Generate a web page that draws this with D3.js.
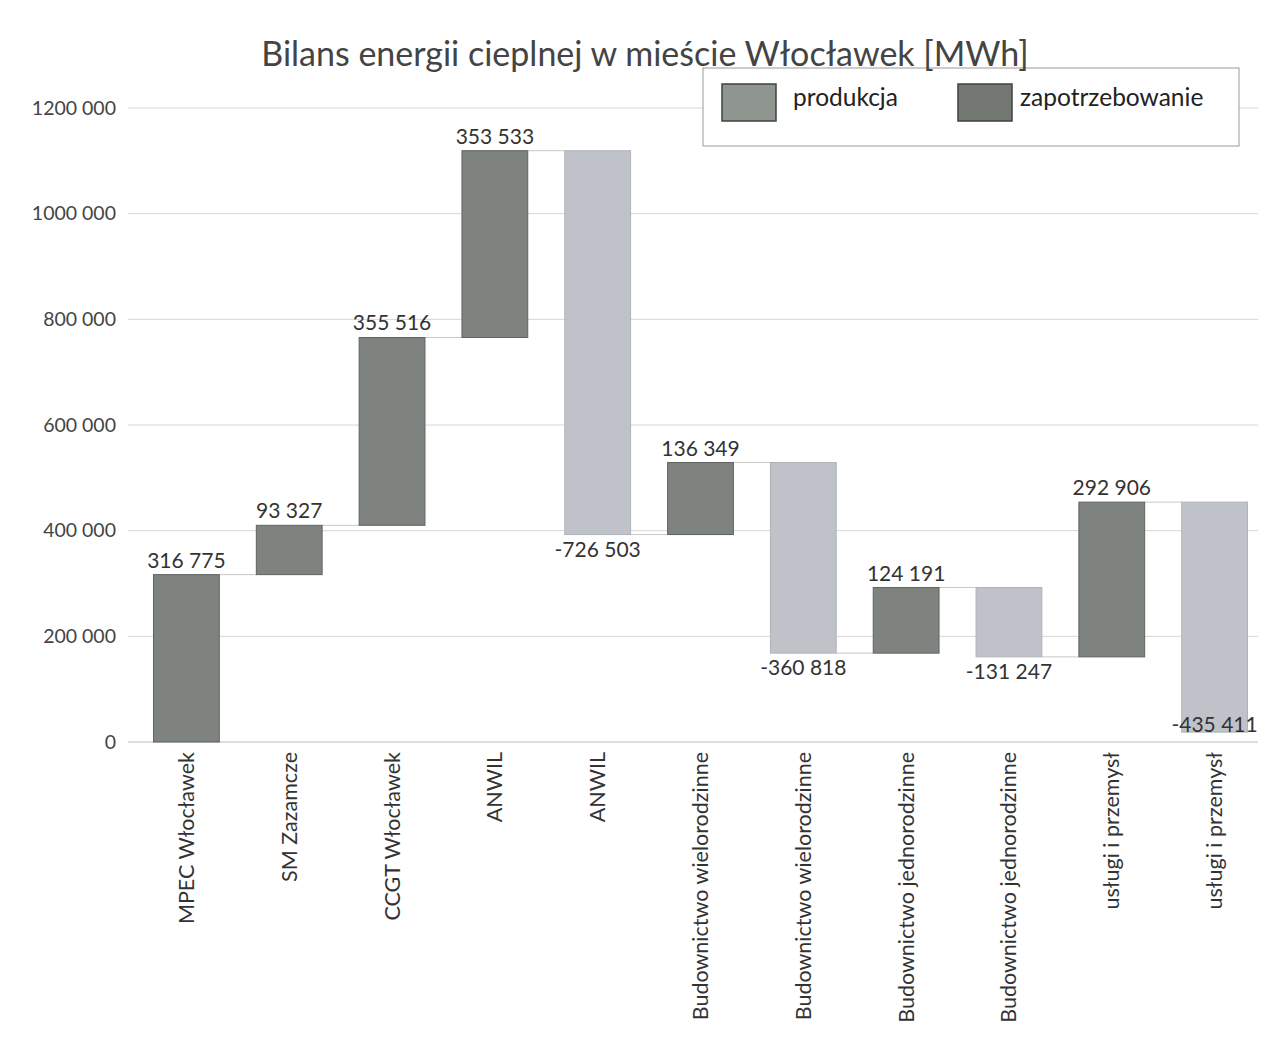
<!DOCTYPE html>
<html>
<head>
<meta charset="utf-8">
<script src="https://cdn.jsdelivr.net/npm/d3@7"></script>
<style>
  html, body { margin: 0; padding: 0; background: #ffffff; }
  svg { display: block; }
</style>
</head>
<body>
<svg id="chart" width="1261" height="1051"></svg>
<script>
// ---- data ----
const categories = [
  "MPEC Włocławek", "SM Zazamcze", "CCGT Włocławek", "ANWIL", "ANWIL",
  "Budownictwo wielorodzinne", "Budownictwo wielorodzinne",
  "Budownictwo jednorodzinne", "Budownictwo jednorodzinne",
  "usługi i przemysł", "usługi i przemysł"
];
const values = [316775, 93327, 355516, 353533, -726503, 136349, -360818, 124191, -131247, 292906, -435411];
const valueLabels = ["316 775", "93 327", "355 516", "353 533", "-726 503", "136 349", "-360 818", "124 191", "-131 247", "292 906", "-435 411"];
const yTicks = [0, 200000, 400000, 600000, 800000, 1000000, 1200000];
const yTickLabels = ["0", "200 000", "400 000", "600 000", "800 000", "1000 000", "1200 000"];
const legendItems = ["produkcja", "zapotrzebowanie"];
const title = "Bilans energii cieplnej w mieście Włocławek [MWh]";

// ---- build waterfall segments ----
let run = 0;
const segs = values.map((v, i) => {
  const start = run;
  run += v;
  return { i, v, start, end: run, lo: Math.min(start, run), hi: Math.max(start, run) };
});

const svg = d3.select("#chart");
const font = "Lato, 'Open Sans', 'Liberation Sans', sans-serif";

const x = d3.scaleBand().domain(d3.range(categories.length)).range([135, 1266]).paddingInner(0.36).paddingOuter(0.18);
const y = d3.scaleLinear().domain([0, 1200000]).range([742, 108]);

// gridlines
svg.append("g").selectAll("line").data(yTicks).join("line")
  .attr("x1", 128).attr("x2", 1258)
  .attr("y1", d => y(d)).attr("y2", d => y(d))
  .attr("stroke", d => d === 0 ? "#bdbdbd" : "#d6d6d6").attr("stroke-width", 1);

// y axis labels
const yAxis = d3.axisLeft(y).tickValues(yTicks).tickSize(0).tickPadding(0)
  .tickFormat((d, i) => yTickLabels[i]);
const gy = svg.append("g").attr("transform", "translate(116,0)").call(yAxis);
gy.select(".domain").remove();
gy.selectAll("text").attr("font-family", font).attr("font-size", 19.5).attr("fill", "#444");

// connectors
svg.append("g").selectAll("line").data(segs.slice(0, -1)).join("line")
  .attr("x1", d => x(d.i) + x.bandwidth()).attr("x2", d => x(d.i + 1))
  .attr("y1", d => y(d.end)).attr("y2", d => y(d.end))
  .attr("stroke", "#c8c8c8").attr("stroke-width", 1);

// bars
svg.append("g").selectAll("rect").data(segs).join("rect")
  .attr("x", d => x(d.i)).attr("width", x.bandwidth())
  .attr("y", d => y(d.hi)).attr("height", d => y(d.lo) - y(d.hi))
  .attr("fill", d => d.v >= 0 ? "#7e837f" : "#bfc3c9")
  .attr("stroke", d => d.v >= 0 ? "#5f645f" : "#b0b3b8").attr("stroke-width", 1);

// value labels
svg.append("g").selectAll("text").data(segs).join("text")
  .attr("x", d => x(d.i) + x.bandwidth() / 2)
  .attr("y", d => d.v >= 0 ? y(d.hi) - 7 : Math.min(y(d.lo) + 22, 732))
  .attr("text-anchor", "middle")
  .attr("font-family", font).attr("font-size", 21).attr("fill", "#333")
  .text((d, i) => valueLabels[i]);

// x axis labels
const xAxis = d3.axisBottom(x).tickSize(0).tickPadding(0).tickFormat(i => categories[i]);
const gx = svg.append("g").attr("transform", "translate(0,752)").call(xAxis);
gx.select(".domain").remove();
gx.selectAll("text")
  .attr("transform", "rotate(-90)")
  .attr("x", 0).attr("y", 0).attr("dy", "0.35em")
  .attr("text-anchor", "end")
  .attr("font-family", font).attr("font-size", 21.5).attr("fill", "#333");

// legend
const lg = svg.append("g");
lg.append("rect").attr("x", 703).attr("y", 68).attr("width", 536).attr("height", 78)
  .attr("fill", "#fff").attr("stroke", "#9a9a9a").attr("stroke-width", 1);
const swatch = ["#8f958f", "#737873"];
const lx = [722, 958];
legendItems.forEach((t, i) => {
  lg.append("rect").attr("x", lx[i]).attr("y", 84).attr("width", 54).attr("height", 37)
    .attr("fill", swatch[i]).attr("stroke", "#3f423f").attr("stroke-width", 1.5);
  lg.append("text").attr("x", lx[i] + (i === 0 ? 71 : 62)).attr("y", 106)
    .attr("font-family", font).attr("font-size", 24.5).attr("fill", "#222").text(t);
});

// title (drawn above legend)
svg.append("text").attr("x", 645).attr("y", 66).attr("text-anchor", "middle")
  .attr("font-family", font).attr("font-size", 34).attr("fill", "#444").text(title);
</script>
</body>
</html>
